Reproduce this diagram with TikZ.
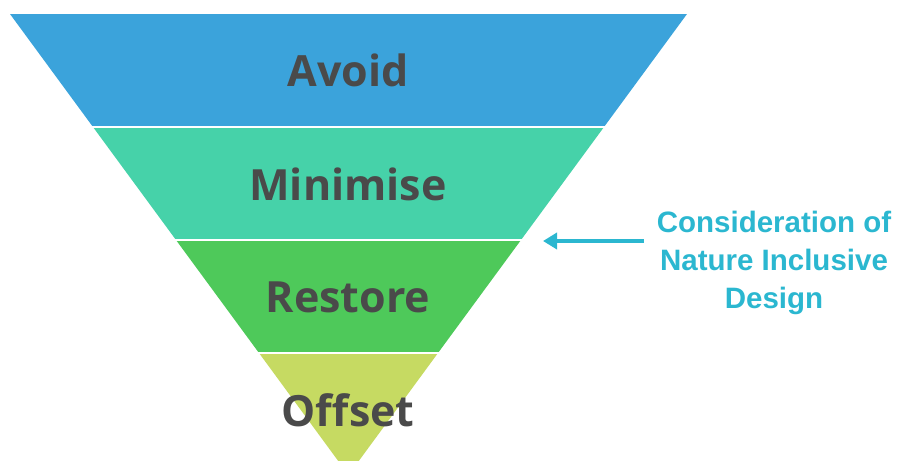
\documentclass[tikz,border=0pt]{standalone}
\usepackage{fontspec}
\setmainfont{Open Sans}
\newfontfamily\arialfont{Liberation Sans}
\usetikzlibrary{arrows.meta}
\definecolor{cblue}{HTML}{3BA3DB}
\definecolor{cteal}{HTML}{46D2A9}
\definecolor{cgreen}{HTML}{4EC95A}
\definecolor{clime}{HTML}{C6DA62}
\definecolor{ctext}{HTML}{4A4A4A}
\definecolor{ccyan}{HTML}{2BB7D0}
\tikzset{
  band/.style={draw=none},
  bandlabel/.style={text=ctext, font=\fontsize{43}{50}\selectfont\bfseries, inner sep=0pt},
  sidelabel/.style={text=ccyan, font=\arialfont\fontsize{29.5}{38}\selectfont\bfseries, align=center, inner sep=0pt},
  sep/.style={white, line width=2pt}
}
\begin{document}
\begin{tikzpicture}[x=1pt,y=-1pt]
\useasboundingbox (0,0) rectangle (898,461);
\fill[band, cblue]  (10,14) -- (687,14) -- (604,127) -- (93,127) -- cycle;
\fill[band, cteal]  (93,127) -- (604,127) -- (521,240) -- (176,240) -- cycle;
\fill[band, cgreen] (176,240) -- (521,240) -- (438,353) -- (259,353) -- cycle;
\fill[band, clime]  (259,353) -- (438,353) -- (348.5,475) -- cycle;
\draw[sep] (90,127) -- (607,127);
\draw[sep] (173,240) -- (524,240);
\draw[sep] (256,353) -- (441,353);
\node[bandlabel] (avoid) at (348,70) {Avoid};
\node[bandlabel] (minimise) at (348,184) {Minimise};
\node[bandlabel] (restore) at (348,297) {Restore};
\node[bandlabel] (offset) at (348,410) {Offset};
\node[sidelabel] (nid) at (774,263) {Consideration of\\Nature Inclusive\\Design};
\coordinate (tip) at (543,241);
\draw[ccyan, line width=4pt, -{Triangle[length=14pt,width=16pt]}] (644,241) -- (tip);
\end{tikzpicture}
\end{document}
